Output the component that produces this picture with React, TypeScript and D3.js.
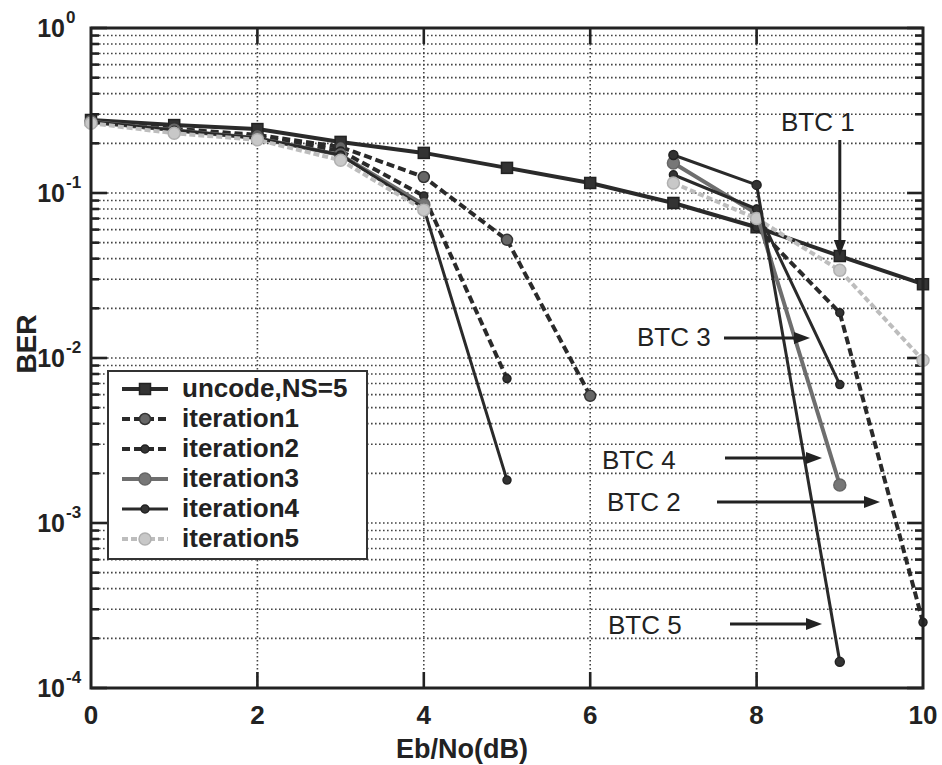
import { useEffect, useRef } from "react";
import * as d3 from "d3";

// Eb/No points (dB)
const ebno = [0, 1, 2, 3, 4, 5, 6, 7, 8, 9, 10];

// BER; null = gap in the curve
const uncoded = [0.277, 0.258, 0.244, 0.204, 0.175, 0.142, 0.115, 0.087, 0.062, 0.0415, 0.028];
const iteration1 = [0.27, 0.245, 0.225, 0.19, 0.125, 0.052, 0.0059, null, null, null, null];
const iteration2 = [0.27, 0.24, 0.22, 0.18, 0.096, 0.0075, null, null, 0.062, 0.0188, 0.00025];
const iteration3 = [0.27, 0.24, 0.215, 0.17, 0.085, null, null, 0.152, 0.075, 0.0017, null];
const iteration4 = [0.27, 0.24, 0.215, 0.17, 0.081, 0.00182, null, 0.129, 0.08, 0.0069, null];
const iteration5 = [0.265, 0.23, 0.21, 0.158, 0.079, null, null, 0.115, 0.07, 0.034, 0.0097];
const btc5 = [null, null, null, null, null, null, null, 0.17, 0.112, 0.000144, null];

const legendLabels = ["uncode,NS=5", "iteration1", "iteration2", "iteration3", "iteration4", "iteration5"];
const xTicks = [0, 2, 4, 6, 8, 10];
const decades = [0, -1, -2, -3, -4];

const btcLabels = ["BTC 1", "BTC 3", "BTC 4", "BTC 2", "BTC 5"];

const W = 942;
const H = 765;
const FONT = "'Liberation Sans', Arial, sans-serif";

type Style = {
  color: string;
  width: number;
  dash: string | null;
  mFill: string;
  mStroke: string;
  mr: number;
  shape: "square" | "circle";
};

const styles: Style[] = [
  { color: "#2a2a2a", width: 4, dash: null, mFill: "#333", mStroke: "#222", mr: 5.5, shape: "square" },
  { color: "#2a2a2a", width: 4, dash: "8,4", mFill: "#666", mStroke: "#333", mr: 5.5, shape: "circle" },
  { color: "#2a2a2a", width: 4, dash: "8,4", mFill: "#333", mStroke: "#222", mr: 4, shape: "circle" },
  { color: "#6e6e6e", width: 4, dash: null, mFill: "#777", mStroke: "#666", mr: 6, shape: "circle" },
  { color: "#2a2a2a", width: 3, dash: null, mFill: "#333", mStroke: "#222", mr: 4, shape: "circle" },
  { color: "#bdbdbd", width: 4, dash: "6,3", mFill: "#c8c8c8", mStroke: "#b0b0b0", mr: 6, shape: "circle" },
  { color: "#2a2a2a", width: 3, dash: null, mFill: "#333", mStroke: "#222", mr: 4.5, shape: "circle" },
];

const series = [uncoded, iteration1, iteration2, iteration3, iteration4, iteration5, btc5];

export default function App() {
  const ref = useRef<SVGSVGElement>(null);

  useEffect(() => {
    const svg = d3.select(ref.current);
    svg.selectAll("*").remove();

    const x = d3.scaleLinear().domain([0, 10]).range([91, 923]);
    const y = d3.scaleLog().domain([1e-4, 1]).range([688, 28]);
    const [x0, x1] = x.range();
    const [yb, yt] = y.range();

    svg.append("rect").attr("width", W).attr("height", H).attr("fill", "#fff");

    // grid
    const minorVals: number[] = [];
    for (let e = -4; e < 0; e++) for (let m = 1; m < 10; m++) minorVals.push(m * Math.pow(10, e));
    minorVals.push(1);
    const grid = svg.append("g").attr("stroke", "#444").attr("stroke-width", 1.6).attr("stroke-dasharray", "1.6,2.4");
    minorVals.forEach((v) => {
      if (v === 1e-4 || v === 1) return;
      grid.append("line").attr("x1", x0).attr("x2", x1).attr("y1", y(v)).attr("y2", y(v));
    });
    [2, 4, 6, 8].forEach((t) => {
      grid.append("line").attr("x1", x(t)).attr("x2", x(t)).attr("y1", yt).attr("y2", yb);
    });

    // ticks
    const ticks = svg.append("g").attr("stroke", "#222").attr("stroke-width", 2.6);
    minorVals.forEach((v) => {
      const major = Math.abs(Math.log10(v) - Math.round(Math.log10(v))) < 1e-9;
      const len = major ? 16 : 8;
      ticks.append("line").attr("x1", x0).attr("x2", x0 + len).attr("y1", y(v)).attr("y2", y(v));
      ticks.append("line").attr("x1", x1).attr("x2", x1 - len).attr("y1", y(v)).attr("y2", y(v));
    });
    [2, 4, 6, 8].forEach((t) => {
      ticks.append("line").attr("x1", x(t)).attr("x2", x(t)).attr("y1", yb).attr("y2", yb - 16);
      ticks.append("line").attr("x1", x(t)).attr("x2", x(t)).attr("y1", yt).attr("y2", yt + 16);
    });

    // curves
    series.forEach((vals, i) => {
      const st = styles[i];
      const pts = ebno.map((e, j) => ({ e, v: vals[j] }));
      const line = d3
        .line<{ e: number; v: number | null }>()
        .defined((d) => d.v != null)
        .x((d) => x(d.e))
        .y((d) => y(d.v as number));
      svg
        .append("path")
        .attr("d", line(pts))
        .attr("fill", "none")
        .attr("stroke", st.color)
        .attr("stroke-width", st.width)
        .attr("stroke-dasharray", st.dash)
        .attr("stroke-linejoin", "round");
      const g = svg.append("g");
      pts.filter((d) => d.v != null).forEach((d) => drawMarker(g, x(d.e), y(d.v as number), st));
    });

    // frame
    svg
      .append("rect")
      .attr("x", x0)
      .attr("y", yt)
      .attr("width", x1 - x0)
      .attr("height", yb - yt)
      .attr("fill", "none")
      .attr("stroke", "#222")
      .attr("stroke-width", 3);

    // y tick labels
    decades.forEach((e) => {
      const yy = y(Math.pow(10, e));
      svg
        .append("text")
        .attr("x", 65)
        .attr("y", yy + 9)
        .attr("text-anchor", "end")
        .attr("font-family", FONT)
        .attr("font-weight", "bold")
        .attr("font-size", 25)
        .attr("fill", "#222")
        .text("10");
      svg
        .append("text")
        .attr("x", 66)
        .attr("y", yy - 5)
        .attr("font-family", FONT)
        .attr("font-weight", "bold")
        .attr("font-size", 17)
        .attr("fill", "#222")
        .text(String(e));
    });

    // x tick labels
    xTicks.forEach((t) => {
      svg
        .append("text")
        .attr("x", x(t))
        .attr("y", 724)
        .attr("text-anchor", "middle")
        .attr("font-family", FONT)
        .attr("font-weight", "bold")
        .attr("font-size", 26)
        .attr("fill", "#222")
        .text(String(t));
    });

    svg
      .append("text")
      .attr("x", 462)
      .attr("y", 758)
      .attr("text-anchor", "middle")
      .attr("font-family", FONT)
      .attr("font-weight", "bold")
      .attr("font-size", 27)
      .attr("fill", "#222")
      .text("Eb/No(dB)");

    svg
      .append("text")
      .attr("transform", "translate(36,344) rotate(-90)")
      .attr("text-anchor", "middle")
      .attr("font-family", FONT)
      .attr("font-weight", "bold")
      .attr("font-size", 28)
      .attr("fill", "#222")
      .text("BER");

    // annotations: label position, arrow tail -> tip
    const btcText = [
      { x: 781, y: 131 },
      { x: 637, y: 346 },
      { x: 602, y: 469 },
      { x: 607, y: 511 },
      { x: 608, y: 634 },
    ];
    const btcArrows = [
      { x1: x(9), y1: 140, x2: x(9), y2: 256 },
      { x1: 724, y1: 338, x2: 810, y2: 338 },
      { x1: 725, y1: 458, x2: 822, y2: 458 },
      { x1: 717, y1: 502, x2: 880, y2: 502 },
      { x1: 730, y1: 624, x2: 822, y2: 624 },
    ];
    btcLabels.forEach((lab, i) => {
      svg
        .append("text")
        .attr("x", btcText[i].x)
        .attr("y", btcText[i].y)
        .attr("font-family", FONT)
        .attr("font-size", 26)
        .attr("fill", "#222")
        .text(lab);
      const a = btcArrows[i];
      const ang = Math.atan2(a.y2 - a.y1, a.x2 - a.x1);
      const hl = 16;
      const hw = 6;
      const bx = a.x2 - hl * Math.cos(ang);
      const by = a.y2 - hl * Math.sin(ang);
      svg
        .append("line")
        .attr("x1", a.x1)
        .attr("y1", a.y1)
        .attr("x2", bx)
        .attr("y2", by)
        .attr("stroke", "#222")
        .attr("stroke-width", 3);
      const px = -Math.sin(ang);
      const py = Math.cos(ang);
      svg
        .append("path")
        .attr("d", `M${a.x2},${a.y2}L${bx + px * hw},${by + py * hw}L${bx - px * hw},${by - py * hw}Z`)
        .attr("fill", "#222");
    });

    // legend
    const lg = svg.append("g");
    lg.append("rect")
      .attr("x", 108)
      .attr("y", 371)
      .attr("width", 259)
      .attr("height", 188)
      .attr("fill", "#fff")
      .attr("stroke", "#333")
      .attr("stroke-width", 2);
    legendLabels.forEach((lab, i) => {
      const st = styles[i];
      const base = 397 + i * 30;
      const ly = base - 8;
      lg.append("line")
        .attr("x1", 122)
        .attr("x2", 168)
        .attr("y1", ly)
        .attr("y2", ly)
        .attr("stroke", st.color)
        .attr("stroke-width", st.width)
        .attr("stroke-dasharray", st.dash);
      drawMarker(lg, 145, ly, st);
      lg.append("text")
        .attr("x", 182)
        .attr("y", base)
        .attr("font-family", FONT)
        .attr("font-weight", "bold")
        .attr("font-size", 26)
        .attr("fill", "#222")
        .text(lab);
    });
  }, []);

  return (
    <svg
      ref={ref}
      width={W}
      height={H}
      style={{ position: "absolute", left: 0, top: 0, display: "block" }}
    />
  );
}

function drawMarker(g: any, cx: number, cy: number, st: Style) {
  if (st.shape === "square") {
    g.append("rect")
      .attr("x", cx - st.mr)
      .attr("y", cy - st.mr)
      .attr("width", st.mr * 2)
      .attr("height", st.mr * 2)
      .attr("fill", st.mFill)
      .attr("stroke", st.mStroke)
      .attr("stroke-width", 1.5);
  } else {
    g.append("circle")
      .attr("cx", cx)
      .attr("cy", cy)
      .attr("r", st.mr)
      .attr("fill", st.mFill)
      .attr("stroke", st.mStroke)
      .attr("stroke-width", 1.5);
  }
}
